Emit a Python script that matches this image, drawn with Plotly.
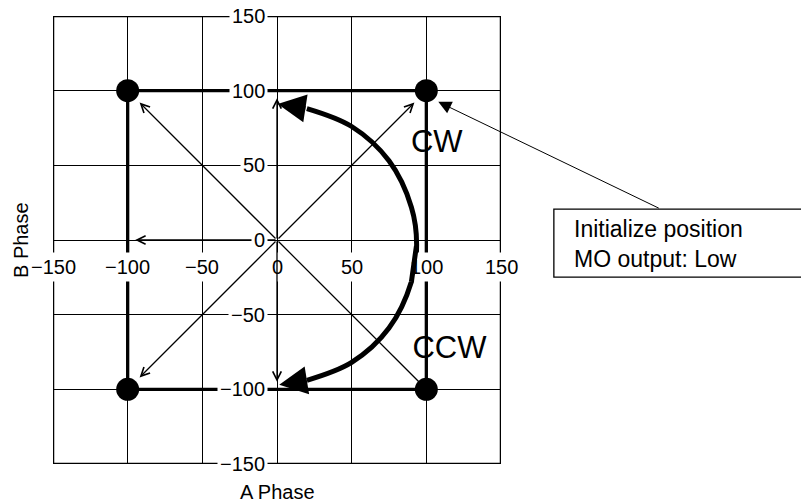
import plotly.graph_objects as go

# ---------------- data ----------------
tick_values = [-150, -100, -50, 0, 50, 100, 150]
tick_labels = ["\u2212150", "\u2212100", "\u221250", "0", "50", "100", "150"]

# thick square path between the four positions
square_x = [-100, 100, 100, -100, -100]
square_y = [100, 100, -100, -100, 100]

# four position dots
dot_x = [-100, 100, -100, 100]
dot_y = [100, 100, -100, -100]

# thin arrows from origin (end points)
arrow_x = [-92, 92, -92, 100, 0, 0]
arrow_y = [92, 92, -92, -100, 95, -95]
arrow_head = [True, True, True, False, True, True]
west_arrow = (-95, 0)

# big rotation arc (read points along centre line)
arc_x = [20, 50, 75, 90, 93.5, 90, 75, 50, 20]
arc_y = [88, 76, 53, 22, -3, -28, -59, -82, -94]
arc_top_head = {"tip": (0.5, 91), "back": (20, 88)}
arc_bot_head = {"tip": (1.5, -97), "back": (20, -94)}

dir_labels = ["CW", "CCW"]
dir_x = [107, 115.5]
dir_y = [64, -74]

callout_tip = (108, 92.5)
callout_text = "Initialize position<br>MO output: Low"

FONT = "Liberation Sans, Arial, sans-serif"

fig = go.Figure()

# direction texts (below lines)
fig.add_trace(go.Scatter(x=dir_x, y=dir_y, mode="text", text=dir_labels,
                         textposition="middle center",
                         textfont=dict(family=FONT, size=31, color="black"),
                         hoverinfo="skip", showlegend=False))
# thick square
fig.add_trace(go.Scatter(x=square_x, y=square_y, mode="lines",
                         line=dict(color="black", width=3.3),
                         hoverinfo="skip", showlegend=False))
# arc
fig.add_trace(go.Scatter(x=arc_x, y=arc_y, mode="lines",
                         line=dict(color="black", width=5, shape="spline"),
                         hoverinfo="skip", showlegend=False))
# dots
fig.add_trace(go.Scatter(x=dot_x, y=dot_y, mode="markers",
                         marker=dict(color="black", size=23),
                         hoverinfo="skip", showlegend=False))

annotations = []
# west arrow (under labels)
annotations.append(dict(x=west_arrow[0], y=west_arrow[1], xref="x", yref="y",
                        ax=0, ay=0, axref="x", ayref="y", text="",
                        showarrow=True, arrowhead=5, arrowwidth=1.3,
                        arrowsize=1.3, arrowcolor="black"))
# tick labels
for v, t in zip(tick_values, tick_labels):
    annotations.append(dict(x=0, y=v, xref="x", yref="y", text=t,
                            showarrow=False, xanchor="right", yanchor="middle",
                            xshift=-9, bgcolor="white", borderpad=2,
                            font=dict(family=FONT, size=20, color="black")))
    annotations.append(dict(x=v, y=0, xref="x", yref="y", text=t,
                            showarrow=False, xanchor="center", yanchor="middle",
                            yshift=-27, bgcolor="white", borderpad=3,
                            font=dict(family=FONT, size=20, color="black")))
# arc section that passes over the "100" label (chord between two arc points)
annotations.append(dict(x=arc_x[5], y=arc_y[5], xref="x", yref="y",
                        ax=arc_x[4], ay=arc_y[4], axref="x", ayref="y",
                        text="", showarrow=True, arrowhead=0, arrowwidth=5,
                        arrowcolor="black"))
# thin arrows
for ex, ey, h in zip(arrow_x, arrow_y, arrow_head):
    annotations.append(dict(x=ex, y=ey, xref="x", yref="y",
                            ax=0, ay=0, axref="x", ayref="y", text="",
                            showarrow=True, arrowhead=5 if h else 0,
                            arrowwidth=1.3, arrowsize=1.3, arrowcolor="black"))
# arc arrowheads
for hd in (arc_top_head, arc_bot_head):
    annotations.append(dict(x=hd["tip"][0], y=hd["tip"][1], xref="x", yref="y",
                            ax=hd["back"][0], ay=hd["back"][1], axref="x", ayref="y",
                            text="", showarrow=True, arrowhead=2, arrowwidth=5,
                            arrowsize=1.12, arrowcolor="black"))
# callout text and leader
annotations.append(dict(x=callout_tip[0], y=callout_tip[1], xref="x", yref="y",
                        ax=222, ay=107, text="", showarrow=True, arrowhead=2,
                        arrowwidth=1, arrowsize=2.6, arrowcolor="black"))
annotations.append(dict(x=1.158, y=0.49, xref="paper", yref="paper",
                        text=callout_text, showarrow=False, align="left",
                        xanchor="left", yanchor="middle",
                        font=dict(family=FONT, size=23, color="black")))
# axis titles
annotations.append(dict(x=0.5, y=-0.0625, xref="paper", yref="paper",
                        text="A Phase", showarrow=False, yanchor="middle",
                        font=dict(family=FONT, size=20, color="black")))
annotations.append(dict(x=-0.0714, y=0.5, xref="paper", yref="paper",
                        text="B Phase", showarrow=False, textangle=-90,
                        xanchor="center", yanchor="middle",
                        font=dict(family=FONT, size=20, color="black")))

shapes = [
    dict(type="rect", xref="x", yref="y", x0=-150, y0=-150, x1=150, y1=150,
         line=dict(color="black", width=2.5), layer="above"),
    dict(type="rect", xref="paper", yref="paper", x0=1.118, x1=1.75,
         y0=0.417, y1=0.569, line=dict(color="black", width=1.3),
         fillcolor="white", layer="above"),
]

axis_common = dict(range=[-150, 150], showgrid=True, dtick=50, tick0=0,
                   gridcolor="#000000", gridwidth=1.2, zeroline=True,
                   zerolinecolor="#000000", zerolinewidth=1.2,
                   showticklabels=False, ticks="", showline=False,
                   fixedrange=True)

# page body has an 8px margin, so the figure is sized to fit inside it
fig.update_layout(
    width=801, height=496, autosize=False,
    margin=dict(l=45, r=308, t=8, b=40),
    paper_bgcolor="white", plot_bgcolor="white",
    xaxis=axis_common, yaxis=axis_common,
    annotations=annotations, shapes=shapes,
    showlegend=False,
)

fig.write_html("out.html")
